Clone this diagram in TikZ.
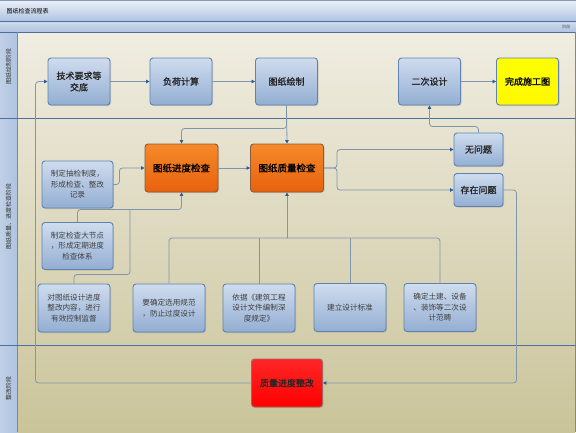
\documentclass[tikz,border=0pt]{standalone}
\usepackage{fontspec}
\newfontfamily\cjk{Noto Sans CJK SC}
\newfontfamily\cjkb[FakeBold=1.2]{Noto Sans CJK SC}
\usetikzlibrary{shadows,arrows.meta}
\definecolor{bluetop}{HTML}{CFDCEE}
\definecolor{bluebot}{HTML}{93AED2}
\definecolor{bborder}{HTML}{5F82B0}
\definecolor{orgtop}{HTML}{F58A2A}
\definecolor{orgbot}{HTML}{E8610C}
\definecolor{oborder}{HTML}{8A5A3A}
\definecolor{linec}{HTML}{8096AA}
\definecolor{arrowc}{HTML}{2A5A9A}
\definecolor{lanetop}{HTML}{F0EDE2}
\definecolor{lanebot}{HTML}{CAC49A}
\definecolor{sepc}{HTML}{4E6E9C}
\definecolor{headc}{HTML}{AFC4E0}
\definecolor{textc}{HTML}{262626}
\tikzset{
  bluebox/.style={draw=bborder, line width=0.9pt, rounded corners=3pt,
    top color=bluetop, bottom color=bluebot, text=textc, align=center,
    inner sep=1pt, drop shadow={shadow xshift=1pt,shadow yshift=-1pt,opacity=0.3},
    font=\cjkb\fontsize{9}{11.5}\selectfont},
  bigbox/.style={bluebox, minimum width=62pt, minimum height=47pt},
  smallbox/.style={bluebox, minimum width=72pt, minimum height=48pt,
    font=\cjk\fontsize{7.6}{10.5}\selectfont, text=black!75},
  midbox/.style={bluebox, minimum width=49pt, minimum height=33pt},
  orgbox/.style={bluebox, draw=oborder, top color=orgtop, bottom color=orgbot,
    minimum width=73pt, minimum height=48pt, text=black, font=\cjkb\fontsize{9.5}{11}\selectfont},
  conn/.style={draw=linec, line width=0.8pt, rounded corners=3pt,
    -{Triangle[length=3.5pt,width=3.5pt,color=arrowc]}},
  plain/.style={draw=linec, line width=0.8pt, rounded corners=3pt},
  lanelabel/.style={rotate=90, font=\cjk\fontsize{6}{7}\selectfont, text=black!80}
}
\begin{document}
\begin{tikzpicture}[x=1pt,y=-1pt]
\useasboundingbox (0,0) rectangle (576,432);
% title bars
\shade[top color=white!60!bluetop, bottom color=headc] (0,0) rectangle (576,21);
\draw[sepc!70, line width=0.6pt] (0,0.3) -- (576,0.3);
\node[anchor=west, font=\cjk\fontsize{6}{7}\selectfont, text=black] (title) at (3,11) {图纸检查流程表};
\shade[top color=bluetop, bottom color=headc] (0,21) rectangle (576,32);
\draw[sepc, line width=0.6pt] (0,21) -- (576,21);
\node[anchor=east, font=\cjk\fontsize{4}{5}\selectfont, text=black!70] (phase) at (574,27) {阶段};
% lanes background
\shade[top color=lanetop, bottom color=lanebot] (17,32) rectangle (575,432);
\shade[left color=headc!80!white, right color=headc] (0,32) rectangle (17,432);
\draw[sepc, line width=0.8pt] (0,32) -- (576,32);
\draw[sepc!80, line width=0.6pt] (17,32) -- (17,432);
\draw[sepc!80, line width=0.6pt] (575,32) -- (575,432);
\draw[sepc, line width=1pt] (0,118) -- (576,118);
\draw[sepc, line width=1pt] (0,345) -- (576,345);
\node[lanelabel] (lane1) at (8.5,66) {图纸绘制阶段};
\node[lanelabel] (lane2) at (8.5,216) {图纸质量、进度检查阶段};
\node[lanelabel] (lane3) at (8.5,388) {整改阶段};
% nodes lane 1
\node[bigbox] (jishu) at (79,81.5) {技术要求等\\交底};
\node[bigbox] (fuhe) at (181,81.5) {负荷计算};
\node[bigbox] (huizhi) at (286.5,81.5) {图纸绘制};
\node[bigbox] (erci) at (429.5,81.5) {二次设计};
\node[bigbox, top color=yellow, bottom color=yellow!95!orange, draw=bborder, text=black] (wancheng) at (527.5,81.5) {完成施工图};
% lane 2
\node[orgbox] (jindu) at (181.5,168) {图纸进度检查};
\node[orgbox] (zhiliang) at (287,168) {图纸质量检查};
\node[smallbox, minimum width=71pt, minimum height=47pt] (choujian) at (77.5,184.5) {制定抽检制度，\\形成检查、整改\\记录};
\node[smallbox, minimum width=71pt, minimum height=47pt] (dajie) at (77.5,246) {制定检查大节点\\，形成定期进度\\检查体系};
\node[midbox] (wuwenti) at (478.5,149.5) {无问题};
\node[midbox] (cunzai) at (478.5,190) {存在问题};
\node[smallbox] (duitu) at (74,308) {对图纸设计进度\\整改内容，进行\\有效控制监督};
\node[smallbox] (guifan) at (169,308) {要确定选用规范\\，防止过度设计};
\node[smallbox] (yiju) at (259,308) {依据《建筑工程\\设计文件编制深\\度规定》};
\node[smallbox] (biaozhun) at (350,307.5) {建立设计标准};
\node[smallbox] (fanchou) at (440,307.5) {确定土建、设备\\、装饰等二次设\\计范畴};
% lane 3
\node[bluebox, top color=red!85!white, bottom color=red, draw=red!40!black!60, text=black!85,
  minimum width=71pt, minimum height=48pt, font=\cjkb\fontsize{9}{11}\selectfont] (zhenggai) at (287,383) {质量进度整改};
% connectors
\draw[conn] (jishu) -- (fuhe);
\draw[conn] (fuhe) -- (huizhi);
\draw[conn] (erci) -- (wancheng);
\draw[conn] (huizhi.south) -- (zhiliang.north);
\draw[conn] (huizhi.south) -- ++(0,23) -| (jindu.north);
\draw[conn] (jindu) -- (zhiliang);
\draw[conn] (choujian.east) -- ++(6,0) |- (jindu.west);
\draw[conn] (dajie.north) -- ++(0,-12.5) -| (jindu.south);
\draw[plain] (duitu.north) -- ++(0,-9) -| (130,210.2);
\coordinate (bus) at (287,238);
\draw[plain] (guifan.north) |- (bus) -| (fanchou.north);
\draw[plain] (yiju.north) -- (yiju.north |- bus);
\draw[plain] (biaozhun.north) -- (biaozhun.north |- bus);
\draw[conn] (bus) -- (zhiliang.south);
\draw[conn] (zhiliang.east) -- ++(13,0) |- (wuwenti.west);
\draw[conn] (zhiliang.east) -- ++(13,0) |- (cunzai.west);
\draw[conn] (wuwenti.north) -- ++(0,-6) -| (erci.south);
\draw[conn] (cunzai.east) -- ++(13,0) |- (zhenggai.east);
\draw[conn] (zhenggai.west) -| ([xshift=-12pt]jishu.west) -- (jishu.west);
\end{tikzpicture}
\end{document}
